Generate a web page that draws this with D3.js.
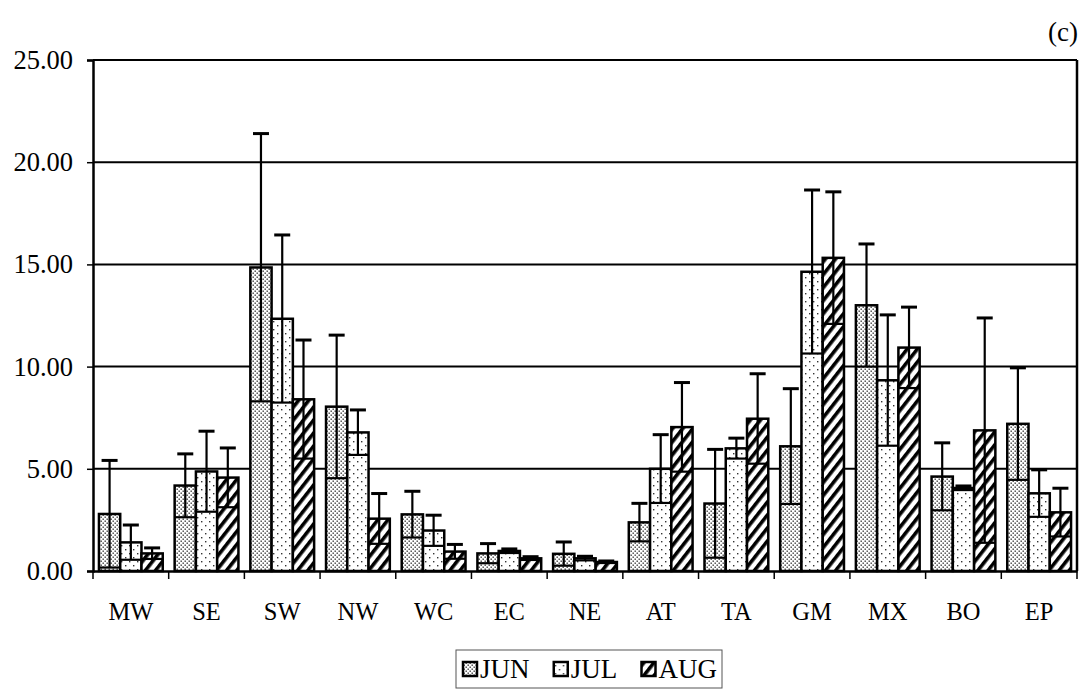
<!DOCTYPE html>
<html><head><meta charset="utf-8">
<script src="https://cdn.jsdelivr.net/npm/d3@7"></script>
<style>body{margin:0;background:#fff} text{font-family:"Liberation Serif","Times New Roman",serif;fill:#000}</style>
</head><body>
<svg id="c" width="1081" height="690"></svg>
<script>
const categories = ["MW","SE","SW","NW","WC","EC","NE","AT","TA","GM","MX","BO","EP"];
const seriesNames = ["JUN","JUL","AUG"];
const junMean = [2.79,4.18,14.85,8.04,2.77,0.86,0.84,2.38,3.30,6.10,13.00,4.62,7.20];
const junSD   = [2.62,1.55,6.55,3.50,1.13,0.48,0.58,0.93,2.65,2.82,3.00,1.65,2.74];
const julMean = [1.40,4.87,12.34,6.78,1.98,0.98,0.62,5.00,6.00,14.64,9.33,4.06,3.80];
const julSD   = [0.85,1.97,4.10,1.10,0.75,0.10,0.10,1.67,0.50,4.00,3.20,0.10,1.15];
const augMean = [0.86,4.57,8.40,2.56,0.95,0.62,0.44,7.04,7.45,15.32,10.93,6.88,2.87];
const augSD   = [0.27,1.45,2.90,1.23,0.35,0.08,0.05,2.18,2.20,3.23,1.98,5.50,1.18];
const yTicks = [0,5,10,15,20,25];
const panelLabel = "(c)";

const means = [junMean, julMean, augMean];
const sds = [junSD, julSD, augSD];
const rows = [];
categories.forEach((c,i)=>seriesNames.forEach((s,j)=>rows.push({cat:c,ser:s,m:means[j][i],sd:sds[j][i]})));

const svg = d3.select("#c");
const L=93,R=1077,T=60,B=571;
const y = d3.scaleLinear().domain([0,25]).range([B,T]);
const x0 = d3.scaleBand().domain(categories).range([L,R]);
const x1 = d3.scaleBand().domain(seriesNames).range([0,x0.bandwidth()]).paddingInner(0).paddingOuter(0.28);

// patterns
const defs = svg.append("defs");
const pJun = defs.append("pattern").attr("id","pJUN").attr("patternUnits","userSpaceOnUse").attr("width",4).attr("height",4);
pJun.append("rect").attr("width",4).attr("height",4).attr("fill","#fff");
pJun.append("rect").attr("x",0.5).attr("y",0.5).attr("width",1.4).attr("height",1.4).attr("fill","#3a3a3a");
pJun.append("rect").attr("x",2.5).attr("y",2.5).attr("width",1.4).attr("height",1.4).attr("fill","#3a3a3a");
const pJul = defs.append("pattern").attr("id","pJUL").attr("patternUnits","userSpaceOnUse").attr("width",8).attr("height",8);
pJul.append("rect").attr("width",8).attr("height",8).attr("fill","#fff");
pJul.append("rect").attr("x",1).attr("y",1).attr("width",1.4).attr("height",1.4).attr("fill","#333");
pJul.append("rect").attr("x",5).attr("y",5).attr("width",1.4).attr("height",1.4).attr("fill","#333");
const pAug = defs.append("pattern").attr("id","pAUG").attr("patternUnits","userSpaceOnUse").attr("width",8).attr("height",8).attr("patternTransform","rotate(38)");
pAug.append("rect").attr("width",8).attr("height",8).attr("fill","#fff");
pAug.append("rect").attr("x",0).attr("y",0).attr("width",3.6).attr("height",8).attr("fill","#000");

// gridlines
svg.append("g").selectAll("line").data(yTicks.filter(d=>d>0)).join("line")
  .attr("x1",L).attr("x2",R).attr("y1",d=>y(d)).attr("y2",d=>y(d))
  .attr("stroke","#000").attr("stroke-width",2);

// bars
const g = svg.append("g");
g.selectAll("rect").data(rows).join("rect")
  .attr("x",d=>x0(d.cat)+x1(d.ser)).attr("width",x1.bandwidth())
  .attr("y",d=>y(d.m)).attr("height",d=>y(0)-y(d.m))
  .attr("fill",d=>"url(#p"+d.ser+")").attr("stroke","#000").attr("stroke-width",2.5);

// error bars
const eb = svg.append("g").attr("stroke","#000");
rows.forEach(d=>{
  const bx = x0(d.cat)+x1(d.ser), cx = bx + x1.bandwidth()/2;
  const lo = Math.max(0,d.m-d.sd), hi = d.m+d.sd;
  eb.append("line").attr("x1",cx).attr("x2",cx).attr("y1",y(lo)).attr("y2",y(hi)).attr("stroke-width",2.2);
  eb.append("line").attr("x1",cx-8).attr("x2",cx+8).attr("y1",y(hi)).attr("y2",y(hi)).attr("stroke-width",3);
  eb.append("line").attr("x1",bx).attr("x2",bx+x1.bandwidth()).attr("y1",y(lo)).attr("y2",y(lo)).attr("stroke-width",2.2);
});

// frame
svg.append("line").attr("x1",L).attr("x2",R).attr("y1",T).attr("y2",T).attr("stroke","#000").attr("stroke-width",2);
svg.append("line").attr("x1",R).attr("x2",R).attr("y1",T).attr("y2",B).attr("stroke","#000").attr("stroke-width",2.5);

// y axis
const ya = svg.append("g").attr("transform",`translate(${L},0)`)
  .call(d3.axisLeft(y).tickValues(yTicks).tickFormat(d3.format(".2f")).tickSize(6).tickPadding(14));
ya.select(".domain").attr("stroke","#000").attr("stroke-width",2.5);
ya.selectAll(".tick line").attr("stroke","#000").attr("stroke-width",1.5);
ya.selectAll("text").style("font-size","26.5px").style("font-family","Liberation Serif");

// x axis
const xa = svg.append("g").attr("transform",`translate(0,${B})`)
  .call(d3.axisBottom(x0).tickSize(0).tickPadding(32));
xa.select(".domain").attr("stroke","#000").attr("stroke-width",2.5);
xa.selectAll("text").style("font-size","24.5px").style("font-family","Liberation Serif");
svg.append("g").selectAll("line").data(categories.map(c=>x0(c)).concat([R])).join("line")
  .attr("x1",d=>d).attr("x2",d=>d).attr("y1",B).attr("y2",B+8).attr("stroke","#000").attr("stroke-width",1.5);

// panel label
svg.append("text").attr("x",1078).attr("y",41).attr("text-anchor","end").style("font-size","27px").text(panelLabel);

// legend
const lg = svg.append("g");
const boxX=456, boxW=266;
lg.append("rect").attr("x",boxX).attr("y",650).attr("width",boxW).attr("height",38).attr("fill","#fff").attr("stroke","#555").attr("stroke-width",1);
const items = seriesNames.map(s=>{
  const it = lg.append("g");
  it.append("rect").attr("x",0).attr("y",662).attr("width",14).attr("height",14).attr("fill","url(#p"+s+")").attr("stroke","#000").attr("stroke-width",2.5);
  const t = it.append("text").attr("x",17).attr("y",678).style("font-size","27px").text(s);
  return {it, w:17+t.node().getComputedTextLength()};
});
const tot = d3.sum(items,d=>d.w);
const gap = (boxW-12-tot)/(items.length-1);
let lx = boxX+7;
items.forEach(d=>{ d.it.attr("transform",`translate(${lx},0)`); lx += d.w+gap; });
</script>
</body></html>
